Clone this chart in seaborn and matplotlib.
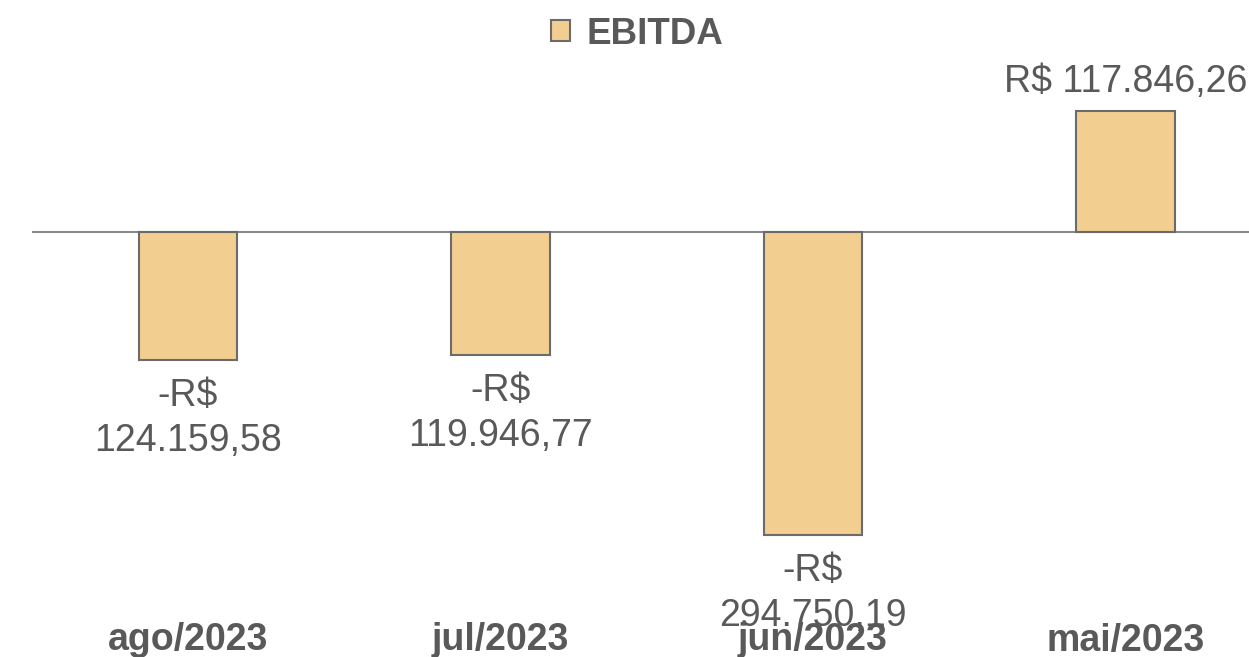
import matplotlib
matplotlib.use("Agg")
import matplotlib.pyplot as plt
import seaborn as sns
import pandas as pd

categories = ["ago/2023", "jul/2023", "jun/2023", "mai/2023"]
ebitda = [-124159.58, -119946.77, -294750.19, 117846.26]
value_labels = ["-R$\n124.159,58", "-R$\n119.946,77", "-R$\n294.750,19", "R$ 117.846,26"]
series_name = "EBITDA"

sns.set_theme(style="white")
plt.rcParams["font.family"] = ["Liberation Sans", "DejaVu Sans"]

W, H = 1249, 657
fig = plt.figure(figsize=(W / 100, H / 100), dpi=100)
left_px, right_px, top_px, bot_px = 31.75, 1281.75, 70, 610
ax = fig.add_axes([left_px / W, (H - bot_px) / H, (right_px - left_px) / W, (bot_px - top_px) / H])

df = pd.DataFrame({"cat": categories, "val": ebitda})
sns.barplot(data=df, x="cat", y="val", ax=ax, color="#F2CE90", saturation=1,
            width=0.314, edgecolor="#6B6B6B", linewidth=1.5, label=series_name)

ax.set_xlim(-0.5, 3.5)
ax.set_ylim(-367700, 157600)
ax.axhline(0, color="#8A8A8A", lw=1.5, zorder=0.5)
for s in ax.spines.values():
    s.set_visible(False)
ax.set_yticks([])
ax.set_xlabel("")
ax.set_ylabel("")
ax.tick_params(axis="x", length=0, pad=9, labelsize=27, labelcolor="#595959")
for t in ax.get_xticklabels():
    t.set_fontweight("bold")

for i, (v, lab) in enumerate(zip(ebitda, value_labels)):
    if v >= 0:
        ax.annotate(lab, (i, v), xytext=(0, 8), textcoords="offset points",
                    ha="center", va="bottom", fontsize=27, color="#595959",
                    annotation_clip=False)
    else:
        ax.annotate(lab, (i, v), xytext=(0, -13), textcoords="offset points",
                    ha="center", va="top", fontsize=27, color="#595959",
                    linespacing=1.32, annotation_clip=False)

leg = ax.legend(loc="center", bbox_to_anchor=(637 / W, 1 - 34 / H),
                bbox_transform=fig.transFigure, frameon=False,
                prop={"size": 26.5, "weight": "bold"}, handlelength=0.5,
                handleheight=0.5, handletextpad=0.45)
for t in leg.get_texts():
    t.set_color("#595959")

fig.savefig("out.png", dpi=100)
